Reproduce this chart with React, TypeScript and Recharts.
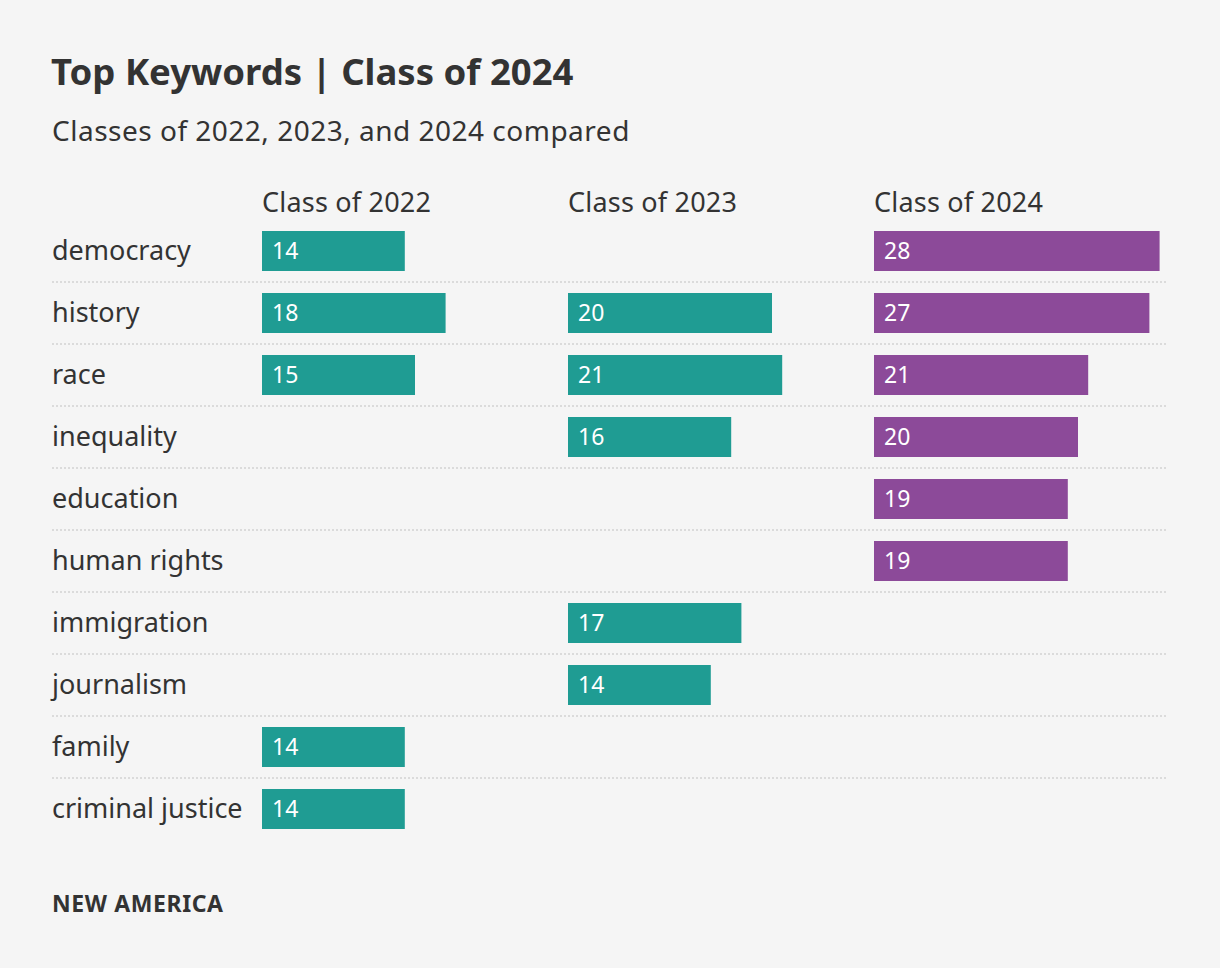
import React from "react";
import { BarChart, Bar, XAxis, YAxis, LabelList } from "recharts";

const keywords = [
  "democracy",
  "history",
  "race",
  "inequality",
  "education",
  "human rights",
  "immigration",
  "journalism",
  "family",
  "criminal justice",
];
const class2022 = [14, 18, 15, null, null, null, null, null, 14, 14];
const class2023 = [null, 20, 21, 16, null, null, 17, 14, null, null];
const class2024 = [28, 27, 21, 20, 19, 19, null, null, null, null];
const columnTitles = ["Class of 2022", "Class of 2023", "Class of 2024"];
const columnMax = 30;

const TEAL = "#1f9c93";
const PURPLE = "#8c4a99";
const TEXT = "#333333";
const FONT = "'Noto Sans', 'Open Sans', sans-serif";

const data = keywords.map((k, i) => ({
  keyword: k,
  c2022: class2022[i],
  c2023: class2023[i],
  c2024: class2024[i],
}));

const series = [
  { key: "c2022", color: TEAL, domain: [0, columnMax * 3] },
  { key: "c2023", color: TEAL, domain: [-columnMax, columnMax * 2] },
  { key: "c2024", color: PURPLE, domain: [-columnMax * 2, columnMax] },
];

const RowTick = (props: any) => {
  const { y, payload, index } = props;
  const half = 31;
  return (
    <g>
      <text
        x={52}
        y={y}
        dy="0.35em"
        textAnchor="start"
        fill={TEXT}
        fontSize={27}
        fontFamily={FONT}
      >
        {payload.value}
      </text>
      {index < keywords.length - 1 && (
        <line
          x1={52}
          x2={1168}
          y1={y + half}
          y2={y + half}
          stroke="#d2d2d2"
          strokeWidth={1.5}
          strokeDasharray="2 2"
        />
      )}
    </g>
  );
};

const HeaderTick = (props: any) => {
  const { x, y, payload } = props;
  const idx = Math.round(payload.value / columnMax);
  return (
    <text
      x={x}
      y={y}
      textAnchor="start"
      fill={TEXT}
      fontSize={27}
      letterSpacing={0.2}
      fontFamily={FONT}
    >
      {columnTitles[idx]}
    </text>
  );
};

export default function App() {
  return (
    <div
      style={{
        position: "relative",
        width: 1220,
        height: 968,
        background: "#f5f5f5",
        fontFamily: FONT,
        color: TEXT,
        overflow: "hidden",
      }}
    >
      <style>{`body{margin:0;}`}</style>
      <div
        style={{
          position: "absolute",
          left: 51,
          top: 47,
          fontSize: 36.5,
          fontWeight: 700,
          whiteSpace: "nowrap",
          lineHeight: "48px",
        }}
      >
        Top Keywords | Class of 2024
      </div>
      <div
        style={{
          position: "absolute",
          left: 52,
          top: 112,
          fontSize: 28,
          letterSpacing: 0.5,
          whiteSpace: "nowrap",
          lineHeight: "36px",
        }}
      >
        Classes of 2022, 2023, and 2024 compared
      </div>
      <div
        style={{
          position: "absolute",
          left: 52,
          top: 888,
          fontSize: 23,
          letterSpacing: 0.6,
          fontWeight: 700,
          whiteSpace: "nowrap",
          lineHeight: "30px",
        }}
      >
        NEW AMERICA
      </div>
      <div style={{ position: "absolute", left: 0, top: 0 }}>
        <BarChart
          width={1220}
          height={968}
          data={data}
          layout="vertical"
          margin={{ top: 180, right: 40, bottom: 128, left: 52 }}
        >
          {series.map((s, i) =>
            i === 0 ? (
              <XAxis
                key={`x${i}`}
                xAxisId={i}
                type="number"
                orientation="top"
                domain={s.domain as any}
                allowDataOverflow
                ticks={[0, columnMax, columnMax * 2]}
                axisLine={false}
                tickLine={false}
                height={40}
                tick={<HeaderTick />}
                interval={0}
              />
            ) : (
              <XAxis
                key={`x${i}`}
                xAxisId={i}
                type="number"
                domain={s.domain as any}
                allowDataOverflow
                hide
              />
            )
          )}
          <YAxis
            yAxisId={0}
            type="category"
            dataKey="keyword"
            width={210}
            axisLine={false}
            tickLine={false}
            tick={<RowTick />}
            interval={0}
          />
          <YAxis yAxisId={1} type="category" dataKey="keyword" hide />
          <YAxis yAxisId={2} type="category" dataKey="keyword" hide />
          {series.map((s, i) => (
            <Bar
              key={s.key}
              dataKey={s.key}
              xAxisId={i}
              yAxisId={i}
              fill={s.color}
              barSize={40}
              isAnimationActive={false}
            >
              <LabelList
                dataKey={s.key}
                position="insideLeft"
                offset={10}
                fill="#ffffff"
                fontSize={23}
                fontFamily={FONT}
                formatter={(v: any) => (v == null ? "" : v)}
              />
            </Bar>
          ))}
        </BarChart>
      </div>
    </div>
  );
}
